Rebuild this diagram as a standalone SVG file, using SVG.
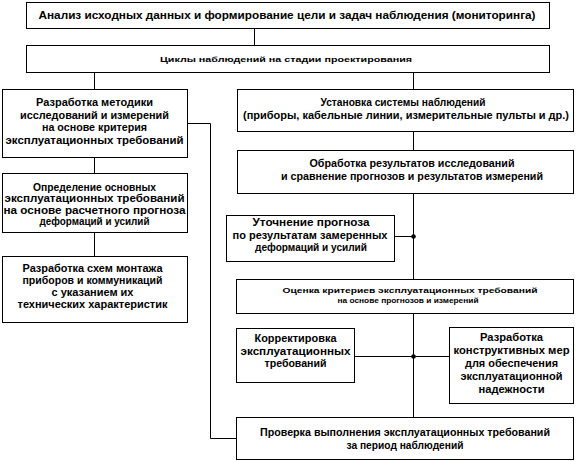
<svg xmlns="http://www.w3.org/2000/svg" width="576" height="461" viewBox="0 0 576 461">
<style>
.b{fill:#fff;stroke:#000;stroke-width:1}
.c{fill:none;stroke:#000;stroke-width:1}
text{font-family:"Liberation Sans",Arial,sans-serif;font-weight:bold;font-size:10px;fill:#000;text-anchor:middle}
.s{font-size:8px}
</style>
<rect width="576" height="461" fill="#fff"/>
<g id="connectors">
<path class="c" d="M254.5,28V45M94.5,72V89M413.5,72V89M94.5,157V173M94.5,232V256M187,123.5H210.5V438.5H236M413.5,131V150M413.5,193V279M395,236.5H413.5M413.5,313V417M355,356.5H449"/>
<circle cx="413.5" cy="236.5" r="2.3"/>
<circle cx="413.5" cy="356.5" r="2.3"/>
</g>
<g id="n1"><rect class="b" x="26.5" y="2.5" width="523" height="26"/>
<text x="287" y="19" textLength="497" lengthAdjust="spacingAndGlyphs">Анализ исходных данных и формирование цели и задач наблюдения (мониторинга)</text></g>
<g id="n2"><rect class="b" x="26.5" y="45.5" width="523" height="27"/>
<text class="s" x="286" y="62" textLength="252" lengthAdjust="spacingAndGlyphs">Циклы  наблюдений на стадии проектирования</text></g>
<g id="n3"><rect class="b" x="2.5" y="89.5" width="185" height="68"/>
<text x="94.5" y="106" textLength="117" lengthAdjust="spacingAndGlyphs">Разработка методики</text>
<text x="94.5" y="118.5" textLength="149" lengthAdjust="spacingAndGlyphs">исследований и измерений</text>
<text x="94.5" y="131" textLength="105" lengthAdjust="spacingAndGlyphs">на основе критерия</text>
<text x="94.5" y="143.5" textLength="178" lengthAdjust="spacingAndGlyphs">эксплуатационных требований</text></g>
<g id="n4"><rect class="b" x="2.5" y="173.5" width="185" height="59"/>
<text x="94.5" y="190.5" textLength="123" lengthAdjust="spacingAndGlyphs">Определение основных</text>
<text x="94.5" y="202" textLength="180" lengthAdjust="spacingAndGlyphs">эксплуатационных требований</text>
<text x="94.5" y="213.5" textLength="182" lengthAdjust="spacingAndGlyphs">на основе расчетного прогноза</text>
<text x="94.5" y="225" textLength="110" lengthAdjust="spacingAndGlyphs">деформаций и усилий</text></g>
<g id="n5"><rect class="b" x="2.5" y="256.5" width="185" height="66"/>
<text x="92.5" y="272" textLength="140" lengthAdjust="spacingAndGlyphs">Разработка схем  монтажа</text>
<text x="92.5" y="284" textLength="140" lengthAdjust="spacingAndGlyphs">приборов и коммуникаций</text>
<text x="92.5" y="296" textLength="82" lengthAdjust="spacingAndGlyphs">с указанием их</text>
<text x="92.5" y="308" textLength="150" lengthAdjust="spacingAndGlyphs">технических характеристик</text></g>
<g id="n6"><rect class="b" x="237.5" y="89.5" width="336" height="42"/>
<text x="403" y="105.5" textLength="165" lengthAdjust="spacingAndGlyphs">Установка системы наблюдений</text>
<text x="406" y="118.5" textLength="326" lengthAdjust="spacingAndGlyphs">(приборы, кабельные линии, измерительные пульты и др.)</text></g>
<g id="n7"><rect class="b" x="237.5" y="150.5" width="336" height="43"/>
<text x="412" y="166.5" textLength="205" lengthAdjust="spacingAndGlyphs">Обработка результатов исследований</text>
<text x="412" y="180" textLength="262" lengthAdjust="spacingAndGlyphs">и сравнение прогнозов и результатов измерений</text></g>
<g id="n8"><rect class="b" x="226.5" y="215.5" width="168" height="46"/>
<text x="311" y="226" textLength="117" lengthAdjust="spacingAndGlyphs">Уточнение прогноза</text>
<text x="310" y="238.5" textLength="155" lengthAdjust="spacingAndGlyphs">по результатам замеренных</text>
<text x="311" y="251" textLength="112" lengthAdjust="spacingAndGlyphs">деформаций и усилий</text></g>
<g id="n9"><rect class="b" x="236.5" y="279.5" width="337" height="34"/>
<text class="s" x="410" y="293" textLength="255" lengthAdjust="spacingAndGlyphs">Оценка критериев эксплуатационных требований</text>
<text class="s" x="408" y="302.5" textLength="141" lengthAdjust="spacingAndGlyphs">на основе прогнозов и измерений</text></g>
<g id="n10"><rect class="b" x="236.5" y="328.5" width="118" height="54"/>
<text x="295.5" y="342" textLength="82" lengthAdjust="spacingAndGlyphs">Корректировка</text>
<text x="295.5" y="354.5" textLength="110" lengthAdjust="spacingAndGlyphs">эксплуатационных</text>
<text x="295.5" y="367" textLength="62" lengthAdjust="spacingAndGlyphs">требований</text></g>
<g id="n11"><rect class="b" x="449.5" y="327.5" width="124" height="76"/>
<text x="511.5" y="341" textLength="63" lengthAdjust="spacingAndGlyphs">Разработка</text>
<text x="511.5" y="354" textLength="116" lengthAdjust="spacingAndGlyphs">конструктивных мер</text>
<text x="511.5" y="367" textLength="93" lengthAdjust="spacingAndGlyphs">для обеспечения</text>
<text x="511.5" y="380" textLength="102" lengthAdjust="spacingAndGlyphs">эксплуатационной</text>
<text x="511.5" y="393" textLength="66" lengthAdjust="spacingAndGlyphs">надежности</text></g>
<g id="n12"><rect class="b" x="236.5" y="417.5" width="337" height="42"/>
<text x="405" y="436" textLength="290" lengthAdjust="spacingAndGlyphs">Проверка выполнения эксплуатационных требований</text>
<text x="405" y="448.5" textLength="117" lengthAdjust="spacingAndGlyphs">за период наблюдений</text></g>
</svg>
